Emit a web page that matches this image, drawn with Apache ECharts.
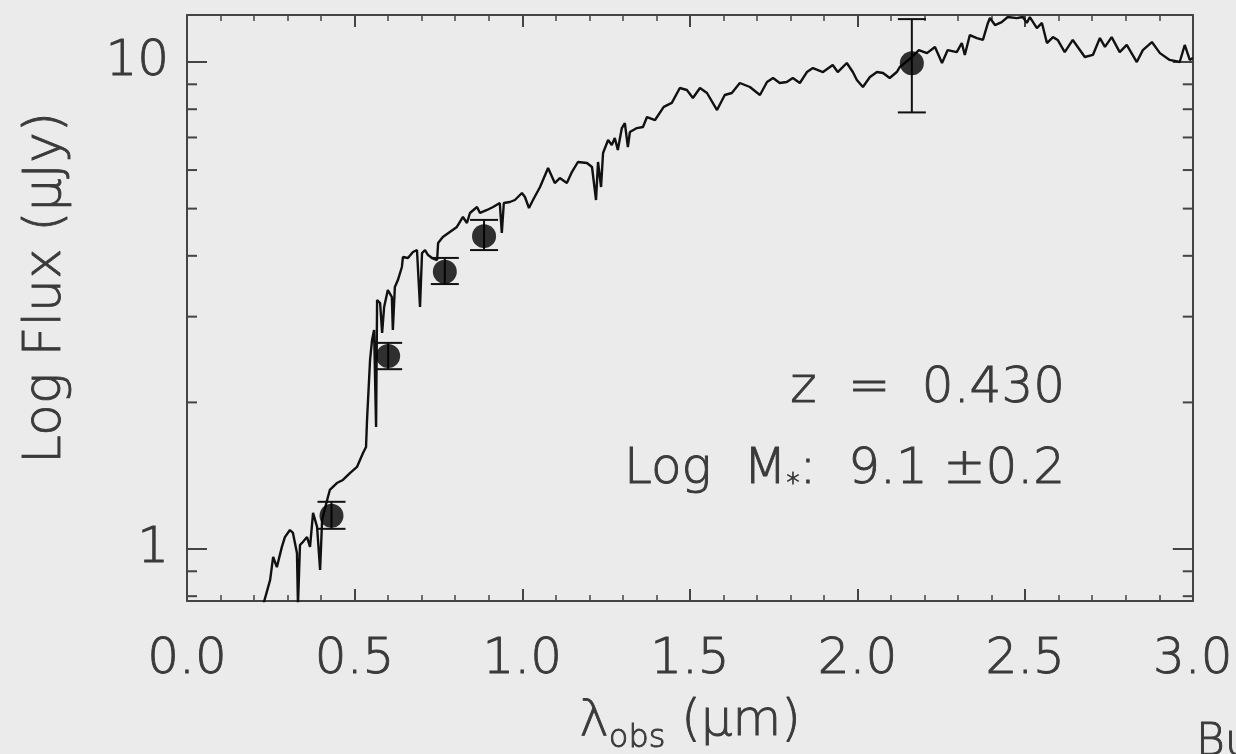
<!DOCTYPE html>
<html>
<head>
<meta charset="utf-8">
<script src="https://cdn.jsdelivr.net/npm/echarts@6/dist/echarts.min.js"></script>
<style>
html,body{margin:0;padding:0;background:#ebebeb;}
#c{width:1236px;height:754px;}
</style>
</head>
<body>
<div id="c"></div>
<script>
// Model spectrum (wavelength in µm, flux in µJy)
const specX = [0.227,0.248,0.257,0.268,0.283,0.292,0.307,0.316,0.328,0.331,0.337,0.343,0.358,0.367,0.376,0.388,0.397,0.403,0.418,0.426,
0.447,0.465,0.486,0.507,0.525,0.534,0.537,0.546,0.552,0.558,0.564,0.567,0.576,0.582,0.588,0.599,0.611,0.614,0.620,0.629,
0.641,0.644,0.659,0.674,0.686,0.695,0.701,0.710,0.719,0.731,0.746,0.749,0.763,0.784,0.805,0.823,0.835,0.844,0.865,0.874,
0.895,0.913,0.933,0.939,0.945,0.963,0.978,0.999,1.008,1.020,1.032,1.053,1.077,1.097,1.112,1.133,1.148,1.166,1.193,1.208,
1.220,1.226,1.235,1.241,1.256,1.267,1.276,1.285,1.297,1.306,1.315,1.321,1.342,1.360,1.372,1.396,1.422,1.446,1.470,1.491,
1.509,1.530,1.551,1.581,1.604,1.625,1.649,1.679,1.709,1.730,1.748,1.768,1.789,1.807,1.828,1.849,1.867,1.897,1.926,1.941,
1.968,1.986,1.998,2.016,2.037,2.058,2.076,2.096,2.117,2.126,2.159,2.183,2.207,2.231,2.252,2.269,2.296,2.311,2.320,2.335,
2.356,2.374,2.389,2.395,2.410,2.430,2.448,2.475,2.493,2.505,2.514,2.535,2.550,2.565,2.583,2.597,2.618,2.642,2.678,2.702,
2.723,2.738,2.758,2.782,2.803,2.833,2.851,2.878,2.902,2.931,2.961,2.976,2.991,3.000];
const specFlux = [0.767,0.864,0.963,0.918,1.010,1.058,1.094,1.079,0.981,0.767,1.019,1.029,1.058,1.010,1.186,1.110,0.906,1.147,1.261,1.322,
1.366,1.386,1.432,1.474,1.575,1.620,1.840,2.444,2.687,2.816,1.780,3.245,3.200,2.777,3.140,3.402,3.292,2.816,3.451,3.567,
3.794,3.977,3.958,4.072,4.111,3.140,4.053,4.111,4.015,3.958,3.921,4.250,4.372,4.477,4.584,4.806,4.671,4.898,5.039,4.898,
4.968,5.039,5.134,4.456,5.134,5.159,5.208,5.383,5.283,5.015,5.208,5.538,6.058,5.643,5.778,5.643,5.944,6.233,6.204,6.087,
5.208,6.233,5.538,6.504,6.917,6.755,6.983,6.597,7.318,7.493,6.691,7.181,7.318,7.353,7.709,7.601,8.087,8.241,8.845,8.762,
8.436,8.845,8.638,7.968,8.557,8.638,9.056,8.886,8.557,9.099,9.272,9.056,9.099,9.272,9.056,9.538,9.720,9.538,9.859,9.538,
9.953,9.538,9.185,8.886,9.316,9.538,9.493,9.272,9.538,9.767,10.19,10.58,10.43,10.74,9.953,10.58,10.48,10.94,10.34,11.36,
11.20,11.10,12.03,12.31,11.91,12.08,12.37,12.31,12.37,12.03,12.37,11.74,12.03,10.94,11.25,11.10,10.48,11.10,10.24,10.34,
11.20,10.74,11.25,10.48,10.84,10.00,10.58,10.99,10.43,10.10,10.00,10.84,10.10,10.19];

// Photometry with error bars
const photX = [0.431, 0.600, 0.769, 0.886, 2.162];
const photFlux = [1.17, 2.49, 3.71, 4.39, 9.94];
const photLo = [1.10, 2.34, 3.50, 4.11, 7.88];
const photHi = [1.25, 2.65, 3.96, 4.74, 12.25];

// Axis ranges and ticks
const xMin = 0, xMax = 3.0, xStep = 0.5;
const yMin = 0.782, yMax = 12.49;
const yMajorTicks = [1, 10];
const yMinorTicks = [0.8, 0.9, 2, 3, 4, 5, 6, 7, 8, 9];

const annoZ = 'z  =  0.430';
const annoMass = ['Log  M', '*', ':  9.1 \u00b10.2'];

const FONT = 'DejaVu Sans';
const FW = 200;
const INK = '#3a3a3a';
const TB = 0.9; // slight stroke to thicken the thin font

const chart = echarts.init(document.getElementById('c'), null, {renderer: 'canvas'});

const tickData = yMinorTicks.map(v => [v, 0]).concat(yMajorTicks.map(v => [v, 1]));

const txt = (size) => ({fontFamily: FONT, fontWeight: FW, fontSize: size, fill: INK, stroke: INK, lineWidth: TB});

const option = {
  backgroundColor: '#ebebeb',
  animation: false,
  grid: {left: 187, right: 43, top: 15, bottom: 153, containLabel: false},
  xAxis: [
    {
      type: 'value', min: xMin, max: xMax, interval: xStep, position: 'bottom',
      axisLine: {show: true, onZero: false, lineStyle: {color: '#444', width: 2}},
      axisTick: {show: true, inside: true, length: 12, lineStyle: {color: '#444', width: 2}},
      minorTick: {show: true, splitNumber: 5, length: 6, lineStyle: {color: '#444', width: 1.5}},
      splitLine: {show: false},
      axisLabel: {show: true, margin: 34, fontFamily: FONT, fontWeight: FW, fontSize: 50, color: INK,
        textBorderColor: INK, textBorderWidth: TB,
        formatter: v => v.toFixed(1)}
    },
    {
      type: 'value', min: xMin, max: xMax, interval: xStep, position: 'top',
      axisLine: {show: true, onZero: false, lineStyle: {color: '#444', width: 2}},
      axisTick: {show: true, inside: true, length: 12, lineStyle: {color: '#444', width: 2}},
      minorTick: {show: true, splitNumber: 5, length: 6, lineStyle: {color: '#444', width: 1.5}},
      splitLine: {show: false},
      axisLabel: {show: false}
    }
  ],
  yAxis: [
    {
      type: 'log', logBase: 10, min: yMin, max: yMax, position: 'left',
      axisLine: {show: true, onZero: false, lineStyle: {color: '#444', width: 2}},
      axisTick: {show: false},
      minorTick: {show: false},
      splitLine: {show: false},
      axisLabel: {show: true, margin: 18, fontFamily: FONT, fontWeight: FW, fontSize: 50, color: INK,
        textBorderColor: INK, textBorderWidth: TB,
        showMinLabel: false, showMaxLabel: false,
        formatter: v => {
          const l = Math.log10(v);
          return Math.abs(l - Math.round(l)) < 1e-6 ? String(Math.round(v)) : '';
        }}
    },
    {
      type: 'log', logBase: 10, min: yMin, max: yMax, position: 'right',
      axisLine: {show: true, onZero: false, lineStyle: {color: '#444', width: 2}},
      axisTick: {show: false}, splitLine: {show: false}, axisLabel: {show: false}
    }
  ],
  series: [
    {
      type: 'custom', name: 'yticks', silent: true, clip: false,
      renderItem: (params, api) => {
        const v = api.value(0), major = api.value(1);
        const y = api.coord([1, v])[1];
        const cs = params.coordSys;
        const len = major ? 20 : 10;
        const st = {stroke: '#444', lineWidth: 2};
        return {type: 'group', children: [
          {type: 'line', shape: {x1: cs.x, y1: y, x2: cs.x + len, y2: y}, style: st},
          {type: 'line', shape: {x1: cs.x + cs.width - len, y1: y, x2: cs.x + cs.width, y2: y}, style: st}
        ]};
      },
      encode: {x: 1, y: 0},
      data: tickData.map(d => [d[0], d[1]])
    },
    {
      type: 'line', name: 'spectrum', showSymbol: false, symbol: 'none', clip: true,
      lineStyle: {color: '#111', width: 2.4}, z: 3,
      data: specX.map((x, i) => [x, specFlux[i]])
    },
    {
      type: 'custom', name: 'errors', clip: false, z: 4,
      renderItem: (params, api) => {
        const x = api.value(0);
        const lo = api.coord([x, api.value(1)]);
        const hi = api.coord([x, api.value(2)]);
        const hw = 14;
        const st = {stroke: '#111', lineWidth: 2};
        return {type: 'group', children: [
          {type: 'line', shape: {x1: lo[0], y1: lo[1], x2: hi[0], y2: hi[1]}, style: st},
          {type: 'line', shape: {x1: lo[0] - hw, y1: lo[1], x2: lo[0] + hw, y2: lo[1]}, style: st},
          {type: 'line', shape: {x1: hi[0] - hw, y1: hi[1], x2: hi[0] + hw, y2: hi[1]}, style: st}
        ]};
      },
      data: photX.map((x, i) => [x, photLo[i], photHi[i]])
    },
    {
      type: 'scatter', name: 'photometry', symbol: 'circle', symbolSize: 24, z: 5,
      itemStyle: {color: '#000'},
      data: photX.map((x, i) => [x, photFlux[i]])
    }
  ],
  graphic: [
    {
      type: 'text', x: 46, y: 288, rotation: Math.PI / 2,
      style: Object.assign({text: 'Log Flux (\u03bcJy)', align: 'center', verticalAlign: 'middle'}, txt(52))
    },
    {
      type: 'text', x: 690, y: 722,
      style: {
        text: '{a|\u03bb}{s|obs}{a| (\u03bcm)}',
        align: 'center', verticalAlign: 'middle',
        rich: {
          a: Object.assign({verticalAlign: 'middle'}, txt(50)),
          s: Object.assign({padding: [34, 0, 0, 0], verticalAlign: 'middle'}, txt(32))
        }
      }
    },
    {
      type: 'text', x: 1065, y: 389,
      style: Object.assign({text: annoZ, align: 'right', verticalAlign: 'middle'}, txt(50))
    },
    {
      type: 'text', x: 1065, y: 470,
      style: {
        text: '{a|' + annoMass[0] + '}{s|' + annoMass[1] + '}{a|' + annoMass[2] + '}',
        align: 'right', verticalAlign: 'middle',
        rich: {
          a: txt(50),
          s: Object.assign({padding: [30, 0, 0, 0]}, txt(26))
        }
      }
    },
    {
      type: 'text', x: 1196, y: 722,
      style: Object.assign({text: 'Bu', align: 'left', verticalAlign: 'top'}, txt(44))
    }
  ]
};
chart.setOption(option);
</script>
</body>
</html>
